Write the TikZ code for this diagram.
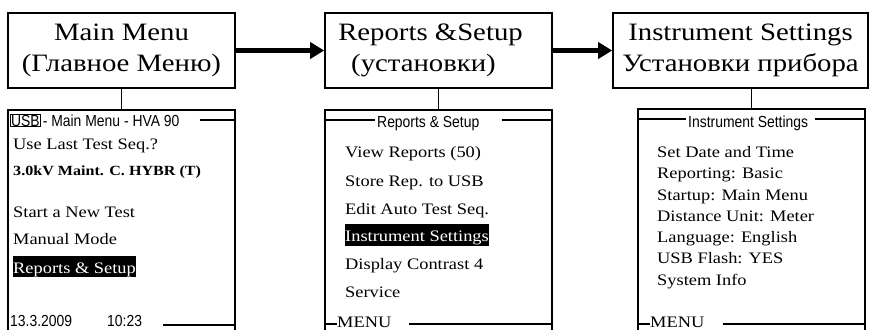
\documentclass[tikz,border=0pt]{standalone}
\usepackage{fontspec}
\setmainfont{Liberation Serif}[FakeStretch=1.15]
\newfontfamily\lcdsans{Liberation Sans}[FakeStretch=0.87]
\usetikzlibrary{positioning,arrows.meta}

\tikzset{
  frame/.style={line width=1.6pt},
  title/.style={draw, frame, minimum width=227pt, minimum height=75pt, align=center, inner sep=0pt, font=\fontsize{25}{31}\selectfont},
  screen/.style={draw, frame, minimum width=227pt, minimum height=260pt, anchor=north},
  item/.style={anchor=base west, inner sep=0pt, font=\fontsize{16}{18}\selectfont},
  hdr/.style={anchor=base west, inner sep=0pt, font=\lcdsans\fontsize{16}{18}\selectfont},
  sel/.style={item, fill=black, text=white, text height=17pt, text depth=4pt},
  arrow/.style={line width=5pt, -{Triangle[length=14pt,width=16pt]}},
}

\begin{document}
\begin{tikzpicture}[x=1pt,y=-1pt]
\clip (0,0) rectangle (877,329);

\node[title] (main) at (121.5,50.5) {Main Menu\\(Главное Меню)};
\node[title] (rep) at (438.5,50.5) {Reports \&Setup\hspace*{16pt}\\(установки)\hspace*{30pt}};
\node[title, minimum width=255pt] (inst) at (740.5,50.5) {Instrument Settings\\Установки прибора};
\draw[arrow] (main.east) -- (rep.west);
\draw[arrow] (rep.east) -- (inst.west);

\node[screen] (scr1) at (121.5,109) {};
\node[screen] (scr2) at (438.5,109) {};
\node[screen] (scr3) at (751.5,108) {};
\draw[frame] (main.south) -- (scr1.north);
\draw[frame] (rep.south) -- (scr2.north);
\draw[frame] (scr3.north) -- (scr3.north |- inst.south);

\node[hdr, draw, line width=0.8pt, inner sep=0.6pt] (usb) at (10,126) {USB};
\node[hdr] (mmhdr) at (usb.base east) {\hspace{2pt}- Main Menu - HVA 90};
\coordinate (h1) at ([yshift=6pt]mmhdr.base east);
\draw[frame] ([xshift=20pt]h1) -- (h1 -| scr1.east);
\node[item] (uselast) at (13,149) {Use Last Test Seq.?};
\node[item, font=\fontsize{14}{16}\selectfont\bfseries] (hybr) at (13,175) {3.0kV Maint. C. HYBR (T)};
\node[item] (newtest) at (13,217) {Start a New Test};
\node[item] (manual) at (13,244) {Manual Mode};
\node[sel] (repsel) at (13,273) {Reports \& Setup};
\node[hdr] (date) at (10,326) {13.3.2009};
\node[hdr] (time) at (107,326) {10:23};
\coordinate (d1) at ([yshift=1pt]time.base east);
\draw[frame] ([xshift=21pt]d1) -- (d1 -| scr1.east);

\node[hdr] (rshdr) at (377,127) {Reports \& Setup};
\coordinate (h2l) at ([yshift=7pt]rshdr.base west);
\coordinate (h2r) at ([yshift=7pt]rshdr.base east);
\draw[frame] (h2l -| scr2.west) -- ([xshift=-2pt]h2l);
\draw[frame] ([xshift=22pt]h2r) -- (h2r -| scr2.east);
\node[item] (view) at (345,157) {View Reports (50)};
\node[item] (store) at (345,186) {Store Rep. to USB};
\node[item] (edit) at (345,214) {Edit Auto Test Seq.};
\node[sel, text depth=5pt] (instsel) at (345,241) {Instrument Settings};
\node[item] (contrast) at (345,269) {Display Contrast 4};
\node[item] (service) at (345,297) {Service};
\node[item] (menu2) at (337,327) {MENU};
\coordinate (m2l) at ([yshift=3pt]menu2.base west);
\coordinate (m2r) at ([yshift=3pt]menu2.base east);
\draw[frame] (m2l -| scr2.west) -- (m2l);
\draw[frame] ([xshift=17pt]m2r) -- (m2r -| scr2.east);

\node[hdr] (ishdr) at (688,127) {Instrument Settings};
\coordinate (h3l) at ([yshift=8pt]ishdr.base west);
\coordinate (h3r) at ([yshift=8pt]ishdr.base east);
\draw[frame] (h3l -| scr3.west) -- ([xshift=-2pt]h3l);
\draw[frame] ([xshift=7pt]h3r) -- (h3r -| scr3.east);
\node[item] (date3) at (657,157) {Set Date and Time};
\node[item] (report3) at (657,178) {Reporting: Basic};
\node[item] (startup) at (657,200) {Startup: Main Menu};
\node[item] (unit) at (657,221) {Distance Unit: Meter};
\node[item] (lang) at (657,242) {Language: English};
\node[item] (flash) at (657,263) {USB Flash: YES};
\node[item] (sysinfo) at (657,285) {System Info};
\node[item] (menu3) at (650,327) {MENU};
\coordinate (m3l) at ([yshift=3pt]menu3.base west);
\coordinate (m3r) at ([yshift=3pt]menu3.base east);
\draw[frame] (m3l -| scr3.west) -- (m3l);
\draw[frame] ([xshift=18pt]m3r) -- (m3r -| scr3.east);
\end{tikzpicture}
\end{document}
